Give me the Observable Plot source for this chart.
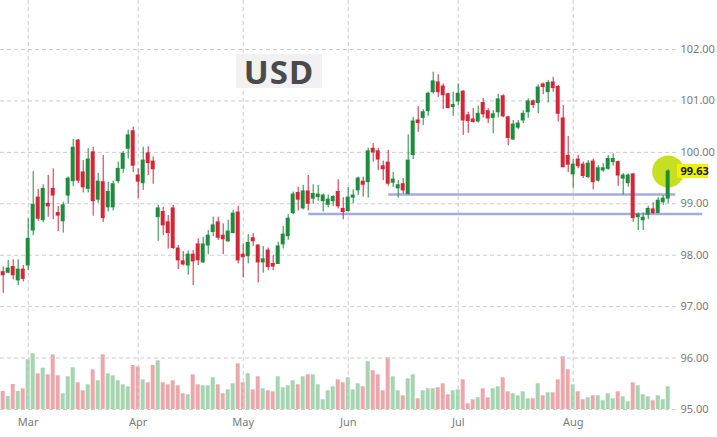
<!DOCTYPE html>
<html><head><meta charset="utf-8">
<script src="https://cdn.jsdelivr.net/npm/d3@7"></script>
<script src="https://cdn.jsdelivr.net/npm/@observablehq/plot@0.6"></script>
<style>
html,body{margin:0;padding:0;background:#fff;}
#wrap{position:relative;width:717px;height:437px;overflow:hidden;}
#title{position:absolute;left:236px;top:54px;width:86px;height:34px;background:#f1f1f1;color:#4a4a4a;font:bold 33px/35px "Noto Sans",sans-serif;text-align:center;letter-spacing:1px;}
</style></head><body>
<div id="wrap"><div id="chart"></div><div id="title">USD</div></div>
<script>
const monthLabels = ["Mar","Apr","May","Jun","Jul","Aug"];
const monthStarts = [5, 27, 48, 69, 91, 114];
const yTicks = [95, 96, 97, 98, 99, 100, 101, 102];

const open = [97.67,97.66,97.77,97.51,97.72,97.80,98.48,99.12,98.68,99.00,99.29,98.82,98.66,99.16,99.44,100.23,99.61,99.29,100.00,99.08,99.42,98.93,98.93,99.44,99.68,100.07,100.41,99.55,99.40,99.98,99.82,98.74,98.84,98.64,98.91,98.13,97.88,97.80,98.01,98.21,97.86,98.19,98.45,98.64,98.38,98.27,98.43,98.83,98.01,97.98,98.33,98.19,97.86,98.09,97.83,97.83,98.21,98.37,98.82,99.21,98.91,99.24,99.10,99.13,99.05,98.98,99.05,99.23,98.90,98.86,99.12,99.26,99.43,99.42,100.07,100.02,99.73,99.80,99.41,99.30,99.38,99.19,99.95,100.62,100.67,100.80,101.17,101.36,101.28,101.13,100.88,100.99,101.18,100.72,100.64,100.60,100.96,100.80,100.67,100.78,101.09,100.68,100.25,100.48,100.62,100.78,100.99,100.96,101.32,101.17,101.36,101.27,100.66,99.93,99.57,99.86,99.76,99.52,99.82,99.45,99.65,99.68,99.81,99.81,99.49,99.40,99.57,98.74,98.68,98.79,98.89,98.82,99.03,99.10];
const close = [97.61,97.74,97.61,97.72,97.54,98.32,98.98,98.71,99.29,98.95,99.16,98.77,98.97,99.49,100.09,99.45,99.32,99.86,99.05,99.43,98.72,99.23,99.38,99.68,99.97,100.33,99.74,99.43,99.84,99.79,99.67,98.91,98.58,98.43,98.14,97.90,97.82,98.01,97.88,97.90,98.21,98.38,98.58,98.34,98.31,98.46,98.81,97.90,97.96,98.24,98.27,97.86,97.92,97.77,97.78,98.17,98.40,98.71,99.18,99.08,99.24,99.00,99.19,99.18,99.16,99.08,99.13,98.95,98.84,99.12,99.16,99.49,99.37,100.02,100.00,99.86,99.67,99.39,99.47,99.36,99.26,99.84,100.60,100.57,100.78,101.14,101.38,101.17,101.11,100.86,100.92,101.14,100.62,100.61,100.59,100.75,100.74,100.66,100.74,101.03,100.70,100.28,100.54,100.56,100.75,100.99,100.92,101.26,101.27,101.35,101.25,100.75,99.71,99.76,99.76,99.73,99.54,99.78,99.42,99.69,99.69,99.87,99.87,99.55,99.55,99.55,98.72,98.79,98.73,98.90,98.82,99.06,99.10,99.63];
const high = [97.77,97.90,97.91,97.91,97.80,98.71,99.63,99.28,99.37,99.55,99.68,98.95,99.03,99.52,100.25,100.25,99.84,100.07,100.10,99.59,99.94,99.42,99.44,99.81,100.02,100.43,100.49,99.68,100.10,100.11,99.91,98.97,98.93,98.77,98.97,98.19,98.07,98.08,98.09,98.32,98.35,98.48,98.74,98.74,98.61,98.68,98.87,98.95,98.22,98.40,98.42,98.19,98.17,98.14,97.99,98.25,98.56,98.79,99.23,99.32,99.36,99.55,99.37,99.36,99.19,99.17,99.16,99.47,99.12,99.32,99.27,99.52,99.52,100.08,100.17,100.08,99.83,100.04,99.61,99.45,99.49,100.34,100.68,100.89,100.83,101.17,101.56,101.51,101.33,101.15,101.17,101.33,101.20,100.78,100.85,100.90,101.05,100.85,100.81,101.13,101.12,100.70,100.62,100.62,100.81,101.04,101.02,101.31,101.35,101.40,101.46,101.30,100.91,100.31,99.87,99.94,99.81,99.84,99.87,99.74,99.78,99.94,99.97,99.83,99.59,99.58,99.59,98.82,98.82,98.95,99.02,99.12,99.16,99.66];
const low = [97.26,97.64,97.52,97.41,97.48,97.70,98.38,98.66,98.63,98.74,98.69,98.46,98.43,98.99,99.34,99.39,99.21,99.21,98.76,99.01,98.64,98.84,98.86,99.39,99.59,99.87,99.61,99.10,99.26,99.55,99.38,98.27,98.38,98.12,98.11,97.72,97.79,97.61,97.41,97.80,97.84,98.01,98.36,98.29,98.01,98.25,98.42,97.83,97.56,97.83,98.17,97.46,97.65,97.70,97.70,97.82,98.12,98.29,98.79,98.86,98.88,98.86,98.99,99.05,98.84,98.92,98.95,98.90,98.69,98.84,99.00,99.16,99.13,99.11,99.81,99.65,99.45,99.34,99.32,99.11,99.19,99.17,99.86,100.39,100.52,100.70,101.13,101.07,100.83,100.85,100.70,100.91,100.33,100.37,100.57,100.57,100.67,100.56,100.36,100.67,100.67,100.13,100.23,100.44,100.56,100.66,100.85,100.75,101.12,100.96,101.17,100.59,99.70,99.61,99.29,99.68,99.49,99.49,99.27,99.42,99.61,99.65,99.73,99.34,99.17,99.32,98.64,98.48,98.48,98.69,98.79,98.81,98.97,99.00];
const volume = [18,13,25,18,20.7,49.7,55.7,35.7,41.3,34.7,54.7,33.7,15.7,32.7,41.7,26.7,18.7,24.7,39.7,28.7,54.7,35.7,33.7,28.7,24.7,22.7,44,42.7,29.7,26.7,44,48.7,26.7,24.7,28.7,23.7,15.7,14.7,34.7,24.7,23.7,23.7,31.7,24.7,15.7,19.7,25.7,45.7,26.7,35.7,19.7,32.7,20.7,18.7,17.7,32.7,21.7,23.7,28.7,24.7,32.7,34.7,34.7,24.7,9.7,18.7,22.7,29.7,26.7,31.7,19.7,25.7,22.7,47.7,38.7,34.7,18.7,51.7,32.7,18.7,13.7,30.7,34.7,10.7,18.7,20.7,20.7,21.7,25.7,14.7,18.7,19.7,29.7,5.7,9.7,11.7,20.7,11.7,20.7,22.7,31.7,17.7,15.7,13.7,17.7,10.7,10.7,25.7,13.7,16.7,16.7,29.7,52.7,39.7,24.7,17.7,9.7,11.7,13.7,13.7,8.7,15.7,10.7,17.7,12.7,7.7,26.7,23.7,14.7,12.7,8.7,13.7,9.7,22.7];
const levels = [
  {price: 99.18, from: 77.1, to: 134.5},
  {price: 98.80, from: 61.1, to: 139.9}
];

const UP = "#1e8c3d", DOWN = "#d52539";
const VUP = "#a4d5b0", VDOWN = "#eba7ab";
const xDomain = [-0.54, 134.86];
const yDomain = [94.961, 102.953];
const volBase = 95;
const volSpan = 1.083; // price units used by the largest volume bar
const volMax = d3.max(volume);

const data = open.map((o, i) => ({i, open: o, high: high[i], low: low[i], close: close[i], vol: volume[i], up: close[i] >= o}));
const last = data[data.length - 1];
const pxPerX = 677 / (xDomain[1] - xDomain[0]);
const pxPerY = 411 / (yDomain[1] - yDomain[0]);

const chart = Plot.plot({
  width: 717, height: 437,
  marginTop: 0, marginBottom: 26, marginLeft: 0, marginRight: 40,
  style: {fontFamily: '"Noto Sans", sans-serif', fontSize: "11px", color: "#7b7b7b", background: "#fff", overflow: "visible"},
  x: {type: "linear", domain: xDomain, axis: null},
  y: {domain: yDomain, axis: null},
  color: {type: "identity"},
  marks: [
    Plot.rect(data, {x1: d => d.i - 0.4, x2: d => d.i + 0.4, y1: () => volBase, y2: d => volBase + d.vol / volMax * volSpan, fill: d => d.up ? VUP : VDOWN}),
    Plot.ruleY(yTicks, {stroke: "#cdcdcd", strokeDasharray: "4,3"}),
    Plot.ruleX(monthStarts, {stroke: "#cdcdcd", strokeDasharray: "4,3"}),
    Plot.axisY(yTicks, {anchor: "right", tickSize: 0, tickPadding: 3, tickFormat: d => d.toFixed(2), fill: "#7b7b7b", fontSize: 11}),
    Plot.axisX(monthStarts, {anchor: "bottom", tickSize: 0, tickPadding: 7, tickFormat: d => monthLabels[monthStarts.indexOf(d)], fill: "#7b7b7b", fontSize: 11}),
    Plot.ruleY(levels, {y: "price", x1: "from", x2: "to", stroke: "#a3abdf", strokeWidth: 2.5}),
    Plot.dot([last], {x: "i", y: "close", r: 16, fill: "#c6df20", stroke: null}),
    Plot.ruleX(data, {x: "i", y1: "low", y2: "high", stroke: d => d.up ? UP : DOWN, strokeWidth: 1}),
    Plot.rect(data, {x1: d => d.i - 0.4, x2: d => d.i + 0.4, y1: "open", y2: "close", fill: d => d.up ? UP : DOWN, insetTop: -0.5, insetBottom: -0.5}),
    Plot.rect([last], {x1: () => xDomain[1], x2: () => xDomain[1] + 31 / pxPerX, y1: d => d.close - 7 / pxPerY, y2: d => d.close + 7 / pxPerY, fill: "#f1f100"}),
    Plot.text([last], {x: () => xDomain[1], y: "close", text: d => d.close.toFixed(2), dx: 3, textAnchor: "start", fontWeight: "bold", fill: "#1a1a1a", fontSize: 11})
  ]
});
document.getElementById("chart").appendChild(chart);
</script>
</body></html>
